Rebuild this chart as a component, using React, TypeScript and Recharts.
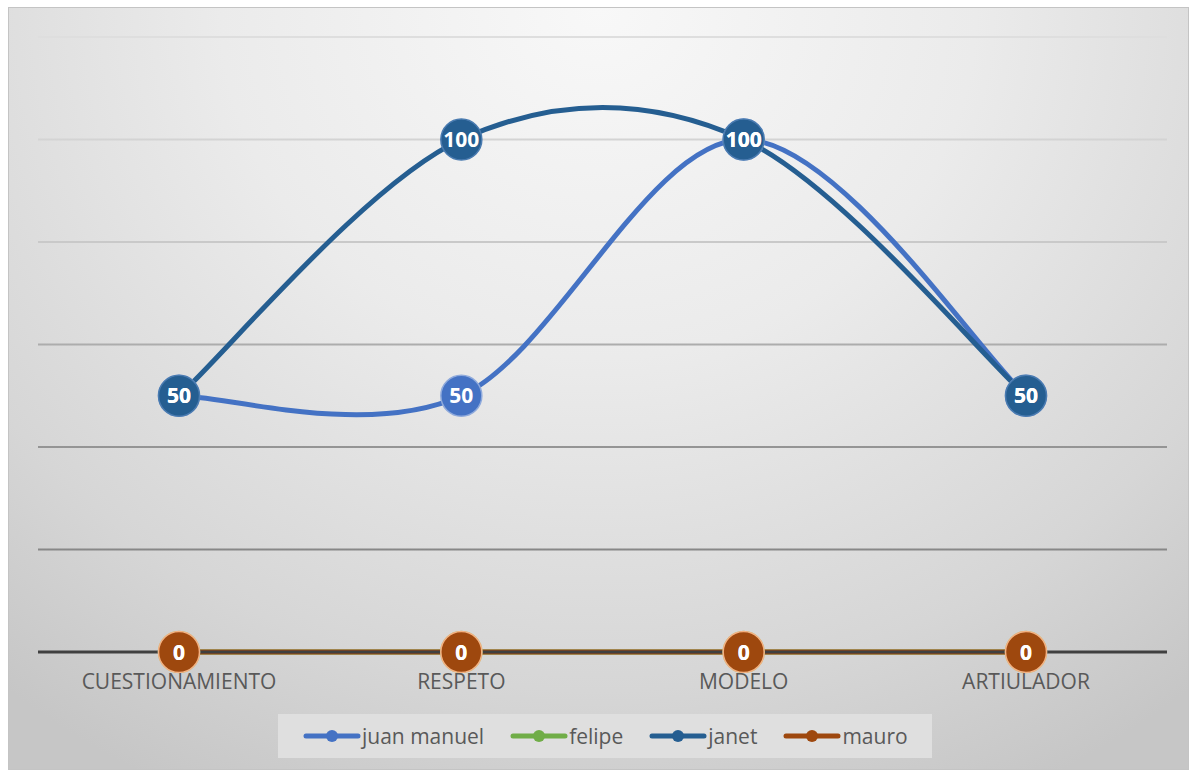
import { LineChart, Line, XAxis, YAxis, CartesianGrid, Legend } from 'recharts';

const categories = ['CUESTIONAMIENTO', 'RESPETO', 'MODELO', 'ARTIULADOR'];
const juanManuel = [50, 50, 100, 50];
const felipe = [0, 0, 0, 0];
const janet = [50, 100, 100, 50];
const mauro = [0, 0, 0, 0];
const yTicks = [0, 20, 40, 60, 80, 100, 120];

const series = [
  { key: 'juan manuel', values: juanManuel, color: '#4472C4', ring: '#8faadc' },
  { key: 'felipe', values: felipe, color: '#70AD47', ring: '#a9d18e' },
  { key: 'janet', values: janet, color: '#255E91', ring: '#4a7bb0' },
  { key: 'mauro', values: mauro, color: '#9E480E', ring: '#f4b183' },
];

const data = categories.map((c, i) => {
  const row: Record<string, any> = { cat: c };
  series.forEach((s) => (row[s.key] = s.values[i]));
  return row;
});

const FONT = '"Open Sans", "Noto Sans", sans-serif';

// excel-like smoothing: bezier with control points at 1/6 of neighbour spread
function excelSmooth(context: any) {
  let pts: number[][] = [];
  return {
    areaStart() {},
    areaEnd() {},
    lineStart() { pts = []; },
    lineEnd() {
      const n = pts.length;
      if (!n) return;
      context.moveTo(pts[0][0], pts[0][1]);
      for (let i = 0; i < n - 1; i++) {
        const p0 = pts[Math.max(0, i - 1)], p1 = pts[i], p2 = pts[i + 1], p3 = pts[Math.min(n - 1, i + 2)];
        context.bezierCurveTo(
          p1[0] + (p2[0] - p0[0]) / 6, p1[1] + (p2[1] - p0[1]) / 6,
          p2[0] - (p3[0] - p1[0]) / 6, p2[1] - (p3[1] - p1[1]) / 6,
          p2[0], p2[1]
        );
      }
    },
    point(x: number, y: number) { pts.push([+x, +y]); },
  };
}

const makeDot = (color: string, ring: string) => (p: any) => (
  <circle key={`d-${p.index}`} cx={p.cx} cy={p.cy} r={20.5} fill={color} stroke={ring} strokeWidth={1.5} />
);

const makeLabel = (p: any) => (
  <text key={`l-${p.index}`} x={p.x} y={p.y} dy={7.5} textAnchor="middle" fill="#fff" fontWeight={700} fontSize={21} fontFamily={FONT}>
    {p.value}
  </text>
);

function LegendBox() {
  return (
    <div style={{ display: 'flex', alignItems: 'center', height: 44, background: '#dfdfdf', paddingLeft: 25, gap: 26, fontFamily: FONT, fontSize: 21, color: '#595959' }}>
      {series.map((s) => (
        <div key={s.key} style={{ display: 'flex', alignItems: 'center' }}>
          <svg width={58} height={14}>
            <line x1={3} y1={7} x2={55} y2={7} stroke={s.color} strokeWidth={5} strokeLinecap="round" />
            <circle cx={29} cy={7} r={6} fill={s.color} />
          </svg>
          <span style={{ marginLeft: 1 }}>{s.key}</span>
        </div>
      ))}
    </div>
  );
}

export default function App() {
  return (
    <div style={{ position: 'absolute', left: 8, top: 7, width: 1181, height: 763, boxSizing: 'border-box', border: '1px solid #c4c4c4', background: 'radial-gradient(ellipse 80% 115% at 50% 0%, #f8f8f8 0%, #ebebeb 40%, #d6d6d6 78%, #c6c6c6 100%)' }}>
      <LineChart width={1181} height={763} data={data} margin={{ top: 30, right: 22, bottom: 88, left: 30 }} style={{ position: 'absolute', left: -1, top: -1 }}>
        <defs>
          <linearGradient id="gridGrad" gradientUnits="userSpaceOnUse" x1={0} y1={30} x2={0} y2={645}>
            <stop offset="0" stopColor="#dedede" />
            <stop offset="0.35" stopColor="#c8c8c8" />
            <stop offset="0.6" stopColor="#9a9a9a" />
            <stop offset="1" stopColor="#7a7a7a" />
          </linearGradient>
        </defs>
        <CartesianGrid vertical={false} stroke="url(#gridGrad)" strokeWidth={2} />
        <XAxis dataKey="cat" padding={{ left: 141, right: 141 }} tickLine={false} axisLine={{ stroke: '#404040', strokeWidth: 3 }} tickMargin={16} tick={{ fill: '#595959', fontSize: 21, fontFamily: FONT }} interval={0} />
        <YAxis hide domain={[0, 120]} ticks={yTicks} />
        <Legend layout="horizontal" verticalAlign="middle" align="center" content={<LegendBox />} wrapperStyle={{ position: 'absolute', left: 270, top: 707, width: 654, height: 44 }} />
        {series.map((s) => (
          <Line
            key={s.key}
            dataKey={s.key}
            type={excelSmooth as any}
            stroke={s.color}
            strokeWidth={5}
            strokeLinecap="round"
            dot={makeDot(s.color, s.ring)}
            activeDot={false}
            label={makeLabel}
            isAnimationActive={false}
          />
        ))}
      </LineChart>
    </div>
  );
}
